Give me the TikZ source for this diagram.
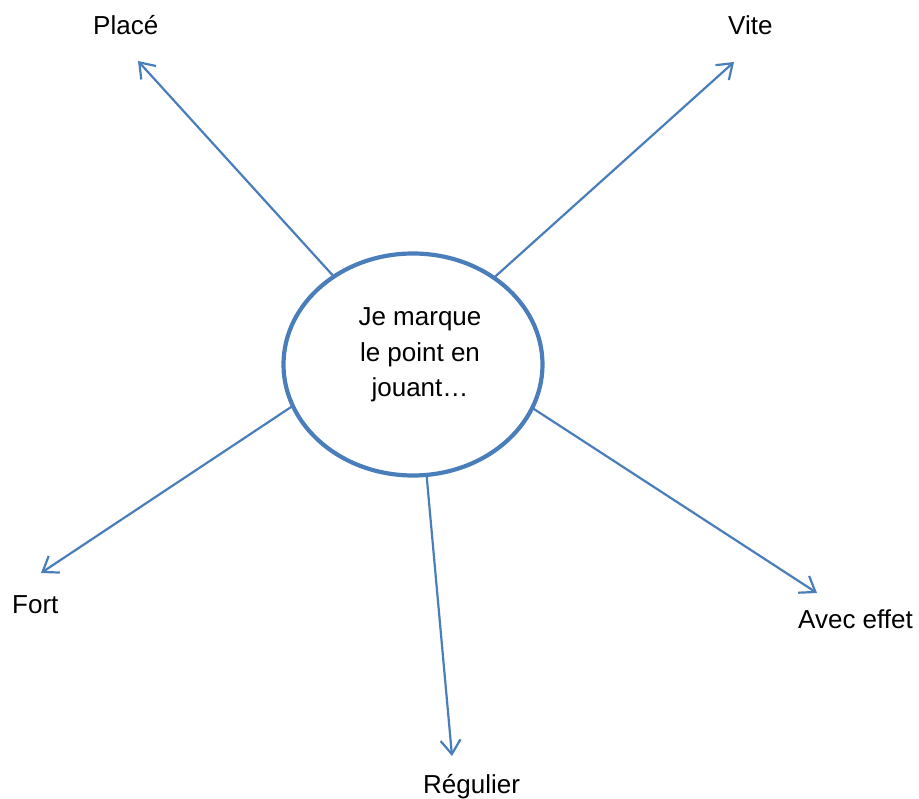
\documentclass[tikz,border=0pt]{standalone}
\usepackage{fontspec}
\setmainfont{Liberation Sans}
\usetikzlibrary{arrows.meta,shapes.geometric}
\definecolor{LineClr}{RGB}{74,126,187}

\begin{document}
\begin{tikzpicture}[x=1pt,y=-1pt,
  idea/.style={draw=LineClr,line width=4.2pt,ellipse,inner sep=0pt,outer sep=0pt,
    minimum width=259pt,minimum height=222pt},
  branch/.style={draw=LineClr,line width=2.2pt,-{Straight Barb[length=14pt,width=20pt]}},
  word/.style={anchor=base west,inner sep=0pt,font=\fontsize{26}{35.5}\selectfont}]
\useasboundingbox (0,0) rectangle (919,799);

\node[idea] (J) at (413,364.5) {};
\node[word,anchor=base,align=center] (JT) at (420,397) {Je marque\\le point en\\jouant…};

\coordinate (P) at (138,61);
\coordinate (V) at (734,62);
\coordinate (F) at (41,573);
\coordinate (R) at (452,756);
\coordinate (A) at (817,593);

\node[word] (LP) at (93,35) {Placé};
\node[word] (LV) at (728,35) {Vite};
\node[word] (LF) at (12,613) {Fort};
\node[word] (LR) at (423,793) {Régulier};
\node[word] (LA) at (798,628) {Avec effet};

\draw[branch] (J.132) -- (P);
\draw[branch] (J.47.8) -- (V);
\draw[branch] (J.199.5) -- (F);
\draw[branch] (J.277.1) -- (R);
\draw[branch] (J.340.1) -- (A);

\end{tikzpicture}
\end{document}
